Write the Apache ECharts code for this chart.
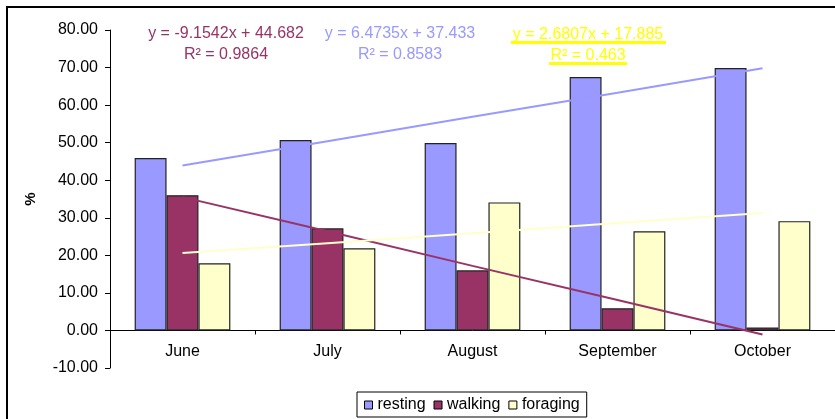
<!DOCTYPE html>
<html>
<head>
<meta charset="utf-8">
<script src="https://cdn.jsdelivr.net/npm/echarts@6/dist/echarts.min.js"></script>
<style>
  html, body { margin: 0; padding: 0; background: #fff; }
  #chart { width: 835px; height: 419px; }
</style>
</head>
<body>
<div id="chart"></div>
<script>
// data
var months = ['June', 'July', 'August', 'September', 'October'];
var resting = [45.9, 50.7, 49.9, 67.5, 69.9];
var walking = [36.0, 27.2, 16.0, 5.9, 0.8];
var foraging = [17.9, 21.9, 34.1, 26.4, 29.1];

// linear trendlines (values at each month, from the fitted equations)
var restingTrend = [43.9, 50.4, 56.9, 63.3, 69.8];
var walkingTrend = [35.5, 26.4, 17.2, 8.1, -1.1];
var foragingTrend = [20.6, 23.2, 25.9, 28.6, 31.3];

var trendLabels = [
  ['y = -9.1542x + 44.682', 'R\u00B2 = 0.9864'],
  ['y = 6.4735x + 37.433', 'R\u00B2 = 0.8583'],
  ['y = 2.6807x + 17.885', 'R\u00B2 = 0.463']
];

var FONT = '"Liberation Sans", Arial, sans-serif';
var C_REST = '#9999FF', C_WALK = '#993366', C_FORAGE = '#FFFFCC';

var myChart = echarts.init(document.getElementById('chart'));

function barSeries(name, data, color) {
  return {
    name: name,
    type: 'bar',
    data: data,
    barGap: '0%',
    barCategoryGap: '34%',
    itemStyle: { color: color, borderColor: '#222', borderWidth: 1.2 },
    z: 2
  };
}

function trendSeries(data, color) {
  return {
    type: 'line',
    data: data,
    symbol: 'none',
    silent: true,
    lineStyle: { color: color, width: 2 },
    z: 3
  };
}

function eqText(x, y, str, color) {
  return {
    type: 'text',
    x: x, y: y,
    style: { text: str, fill: color, font: '16px ' + FONT, textAlign: 'center', textVerticalAlign: 'middle' },
    z: 10
  };
}

myChart.setOption({
  animation: false,
  textStyle: { fontFamily: FONT },
  grid: { left: 110, right: 0, top: 30, bottom: 51, containLabel: false },
  xAxis: {
    type: 'category',
    data: months,
    axisLine: { onZero: true, lineStyle: { color: '#000', width: 1 } },
    axisTick: { show: true, length: 4, lineStyle: { color: '#000' } },
    axisLabel: { color: '#000', fontSize: 16, margin: -24, fontFamily: FONT }
  },
  yAxis: {
    type: 'value',
    min: -10,
    max: 80,
    interval: 10,
    name: '%',
    nameLocation: 'middle',
    nameGap: 72,
    nameRotate: 90,
    nameTextStyle: { color: '#000', fontSize: 15, fontWeight: 'bold', fontFamily: FONT },
    splitLine: { show: false },
    axisLine: { show: true, lineStyle: { color: '#000', width: 1 } },
    axisTick: { show: true, length: 5, lineStyle: { color: '#000' } },
    axisLabel: {
      color: '#000', fontSize: 16, margin: 12, fontFamily: FONT,
      formatter: function (v) { return v.toFixed(2); }
    }
  },
  legend: {
    data: ['resting', 'walking', 'foraging'],
    left: 357,
    top: 392,
    padding: [5, 7, 4, 7],
    borderColor: '#000',
    borderWidth: 1,
    itemWidth: 8,
    itemHeight: 8,
    itemGap: 8,
    icon: 'rect',
    itemStyle: { borderColor: '#000', borderWidth: 1 },
    textStyle: { color: '#000', fontSize: 16, fontFamily: FONT }
  },
  graphic: [
    {
      type: 'rect',
      shape: { x: 7, y: 7, width: 900, height: 500 },
      style: { fill: 'none', stroke: '#000', lineWidth: 2 },
      silent: true,
      z: 0
    },
    eqText(226, 34, trendLabels[0][0], C_WALK),
    eqText(226, 55, trendLabels[0][1], C_WALK),
    eqText(400, 34, trendLabels[1][0], C_REST),
    eqText(400, 55, trendLabels[1][1], C_REST),
    eqText(588, 35, trendLabels[2][0], '#FFFF00'),
    eqText(588, 56, trendLabels[2][1], '#FFFF00'),
    { type: 'rect', shape: { x: 511, y: 41, width: 155, height: 3 }, style: { fill: '#FFFF00' }, z: 10 },
    { type: 'rect', shape: { x: 549, y: 62, width: 78, height: 3 }, style: { fill: '#FFFF00' }, z: 10 }
  ],
  series: [
    barSeries('resting', resting, C_REST),
    barSeries('walking', walking, C_WALK),
    barSeries('foraging', foraging, C_FORAGE),
    trendSeries(restingTrend, C_REST),
    trendSeries(walkingTrend, C_WALK),
    trendSeries(foragingTrend, C_FORAGE)
  ]
});
</script>
</body>
</html>
